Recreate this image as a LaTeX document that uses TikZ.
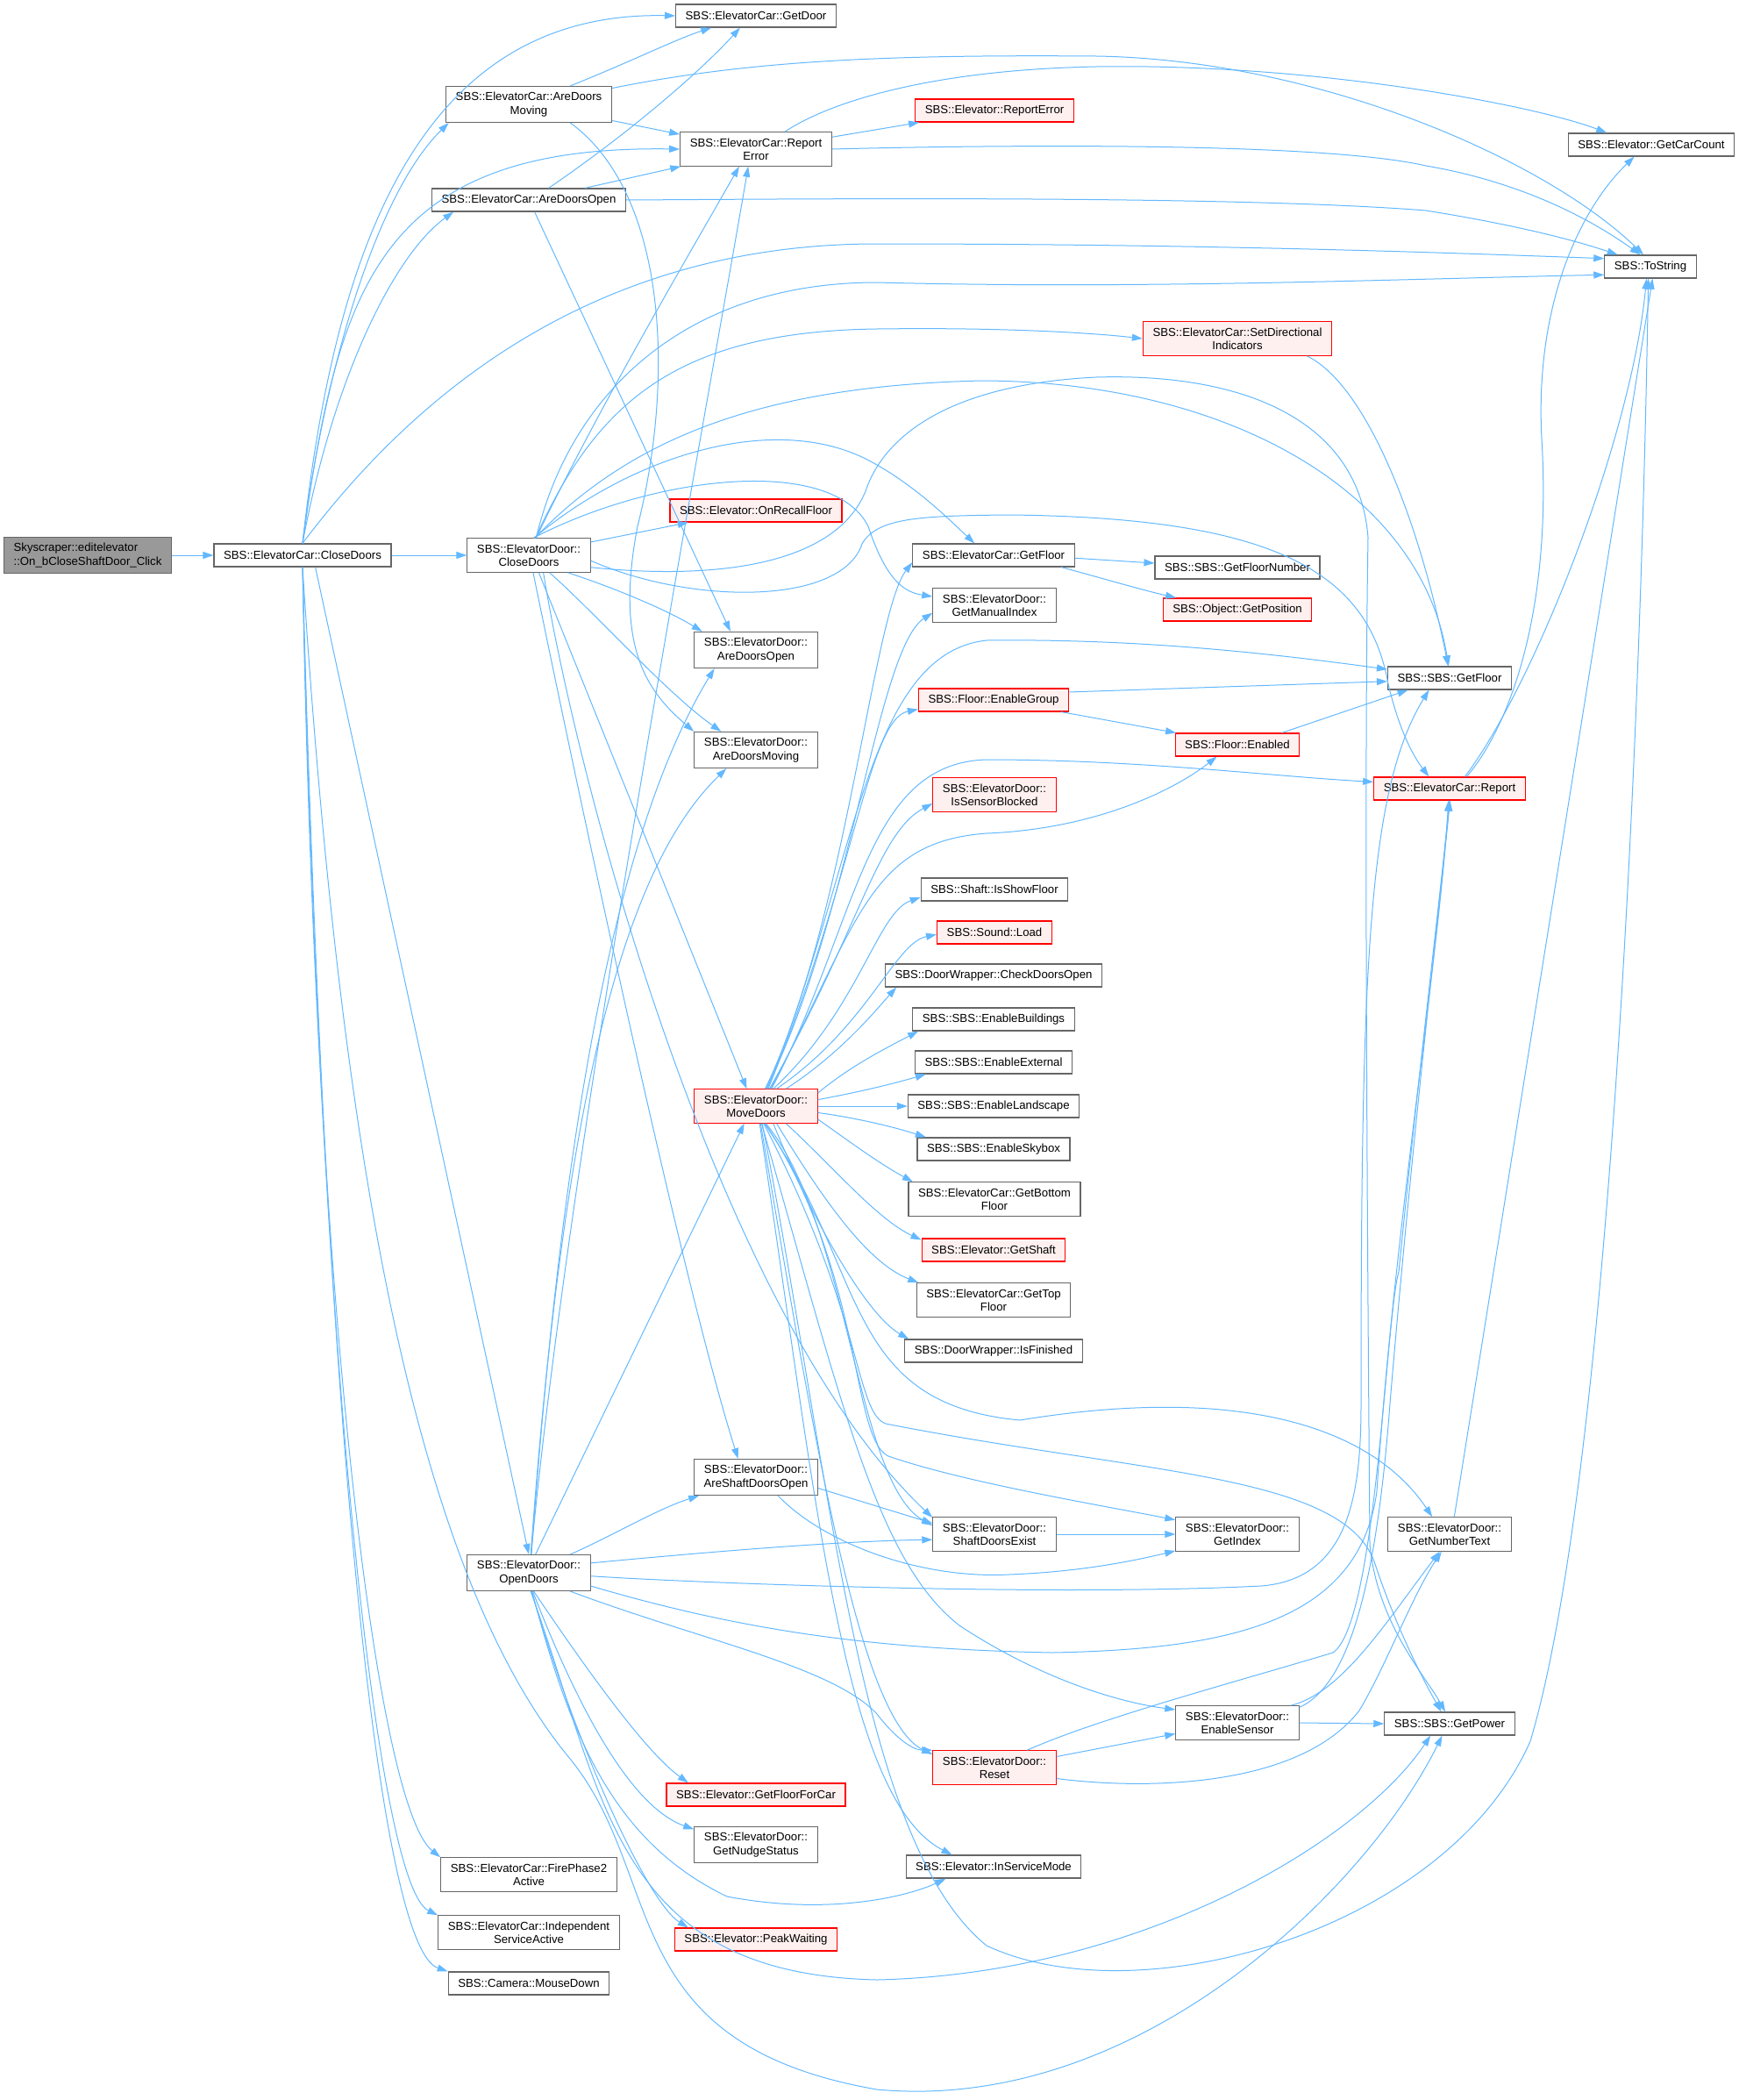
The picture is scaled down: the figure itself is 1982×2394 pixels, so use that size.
\documentclass[tikz,border=0pt]{standalone}
\usepackage{fontspec}
\setmainfont{Liberation Sans}
\usetikzlibrary{arrows.meta}
\definecolor{edgeblue}{HTML}{63B8FF}
\definecolor{boxgray}{HTML}{666666}
\definecolor{rootgray}{HTML}{999999}
\definecolor{redfill}{HTML}{FFF0F0}
\newcommand{\fnfont}{\fontsize{9.9}{11.5}\selectfont}

\begin{document}
\begin{tikzpicture}[x=0.75pt,y=-0.75pt,
  fn/.style={draw=boxgray, fill=white, line width=0.9pt, inner xsep=8.3pt, inner ysep=5pt, minimum height=19.5pt, align=center, font=\fnfont},
  fnred/.style={fn, draw=red},
  fnred/.append style={fill=redfill},
  fnroot/.style={fn, fill=rootgray, align=left},
  call/.style={draw=edgeblue, line width=0.75pt, -{Triangle[length=9pt,width=6pt]}, edgeblue}]
\useasboundingbox (0,0) rectangle (1982,2394);

\node[fnroot] (sk) at (100,633) {Skyscraper::editelevator\\::On\_bCloseShaftDoor\_Click};
\node[fn] (cc) at (345,633) {SBS::ElevatorCar::CloseDoors};
\node[fn] (admc) at (603,119) {SBS::ElevatorCar::AreDoors\\Moving};
\node[fn] (adoc) at (603,228) {SBS::ElevatorCar::AreDoorsOpen};
\node[fn] (ec) at (603,633) {SBS::ElevatorDoor::\\CloseDoors};
\node[fn] (od) at (603,1793) {SBS::ElevatorDoor::\\OpenDoors};
\node[fn] (fire) at (603,2137) {SBS::ElevatorCar::FirePhase2\\Active};
\node[fn] (indep) at (603,2203) {SBS::ElevatorCar::Independent\\ServiceActive};
\node[fn] (mouse) at (603,2261) {SBS::Camera::MouseDown};
\node[fn] (getdoor) at (862,18) {SBS::ElevatorCar::GetDoor};
\node[fn] (repcar) at (862,170) {SBS::ElevatorCar::Report\\Error};
\node[fnred] (recall) at (862,582) {SBS::Elevator::OnRecallFloor};
\node[fn] (adoe) at (862,741) {SBS::ElevatorDoor::\\AreDoorsOpen};
\node[fn] (adme) at (862,855) {SBS::ElevatorDoor::\\AreDoorsMoving};
\node[fnred] (move) at (862,1261) {SBS::ElevatorDoor::\\MoveDoors};
\node[fn] (asdo) at (862,1684) {SBS::ElevatorDoor::\\AreShaftDoorsOpen};
\node[fnred] (ffc) at (862,2046) {SBS::Elevator::GetFloorForCar};
\node[fn] (nudge) at (862,2103) {SBS::ElevatorDoor::\\GetNudgeStatus};
\node[fnred] (peak) at (862,2211) {SBS::Elevator::PeakWaiting};
\node[fnred] (eleverr) at (1134,126) {SBS::Elevator::ReportError};
\node[fn] (carfloor) at (1133,633) {SBS::ElevatorCar::GetFloor};
\node[fn] (manual) at (1134,690) {SBS::ElevatorDoor::\\GetManualIndex};
\node[fnred] (egroup) at (1133,798) {SBS::Floor::EnableGroup};
\node[fnred] (sensblk) at (1134,906) {SBS::ElevatorDoor::\\IsSensorBlocked};
\node[fn] (showfl) at (1134,1014) {SBS::Shaft::IsShowFloor};
\node[fnred] (sound) at (1134,1063) {SBS::Sound::Load};
\node[fn] (chkopen) at (1133,1112) {SBS::DoorWrapper::CheckDoorsOpen};
\node[fn] (ebuild) at (1133,1162) {SBS::SBS::EnableBuildings};
\node[fn] (eext) at (1133,1211) {SBS::SBS::EnableExternal};
\node[fn] (eland) at (1133,1261) {SBS::SBS::EnableLandscape};
\node[fn] (esky) at (1133,1310) {SBS::SBS::EnableSkybox};
\node[fn] (bottom) at (1134,1367) {SBS::ElevatorCar::GetBottom\\Floor};
\node[fnred] (shaft) at (1133,1425) {SBS::Elevator::GetShaft};
\node[fn] (top) at (1133,1482) {SBS::ElevatorCar::GetTop\\Floor};
\node[fn] (finished) at (1133,1540) {SBS::DoorWrapper::IsFinished};
\node[fn] (sdexist) at (1134,1749) {SBS::ElevatorDoor::\\ShaftDoorsExist};
\node[fnred] (reset) at (1134,2015) {SBS::ElevatorDoor::\\Reset};
\node[fn] (insvc) at (1133,2128) {SBS::Elevator::InServiceMode};
\node[fnred] (setdir) at (1411,386) {SBS::ElevatorCar::SetDirectional\\Indicators};
\node[fn] (fnum) at (1411,647) {SBS::SBS::GetFloorNumber};
\node[fnred] (getpos) at (1411,695) {SBS::Object::GetPosition};
\node[fnred] (enabled) at (1411,849) {SBS::Floor::Enabled};
\node[fn] (getindex) at (1411,1749) {SBS::ElevatorDoor::\\GetIndex};
\node[fn] (esensor) at (1411,1964) {SBS::ElevatorDoor::\\EnableSensor};
\node[fn] (sbsfloor) at (1653,773) {SBS::SBS::GetFloor};
\node[fnred] (report) at (1653,899) {SBS::ElevatorCar::Report};
\node[fn] (numtext) at (1653,1749) {SBS::ElevatorDoor::\\GetNumberText};
\node[fn] (power) at (1653,1965) {SBS::SBS::GetPower};
\node[fn] (carcount) at (1883,165) {SBS::Elevator::GetCarCount};
\node[fn] (tostr) at (1882,304) {SBS::ToString};

\draw[call] (sk) -- (cc);
\draw[call] (cc) -- (ec);
\draw[call] (cc.north) .. controls (380,300) and (470,12) .. (getdoor.west);
\draw[call] (cc.north) .. controls (370,420) and (430,220) .. (admc.193);
\draw[call] (cc.north) .. controls (385,330) and (430,165) .. (repcar.west);
\draw[call] (cc.north) .. controls (380,430) and (450,290) .. (adoc.189);
\draw[call] (cc.north) .. controls (450,480) and (650,278) .. (1000,278) .. controls (1400,278) and (1700,290) .. (tostr.170);
\draw[call] (cc.-43) -- (od.north);
\draw[call] (cc.south) .. controls (360,1500) and (430,2060) .. (fire.north west);
\draw[call] (cc.south) .. controls (365,1550) and (430,2150) .. (indep.north west);
\draw[call] (cc.south) .. controls (370,1600) and (430,2220) .. (mouse.north west);
\draw[call] (cc.south) .. controls (390,1350) and (480,1800) .. (650,2005) .. controls (760,2140) and (700,2330) .. (1000,2382) .. controls (1300,2410) and (1560,2150) .. (power.238);

\draw[call] (admc.24) .. controls (720,70) and (770,45) .. (getdoor.195);
\draw[call] (admc.-11) -- (repcar.169);
\draw[call] (admc.11) .. controls (850,70) and (1000,62) .. (1250,64) .. controls (1500,68) and (1760,180) .. (tostr.120);
\draw[call] (admc.-24) .. controls (760,220) and (770,430) .. (727,600) .. controls (700,740) and (740,790) .. (adme.north west);
\draw[call] (adoc.31) .. controls (720,150) and (800,80) .. (getdoor.217);
\draw[call] (adoc.12) -- (repcar.193);
\draw[call] (adoc.east) .. controls (900,227) and (1400,222) .. (1626,240) .. controls (1720,255) and (1790,272) .. (tostr.160);
\draw[call] (adoc.-64) -- (adoe.144);
\draw[call] (repcar.9) -- (eleverr.189);
\draw[call] (repcar.31) .. controls (940,120) and (1050,80) .. (1250,76) .. controls (1500,72) and (1750,120) .. (carcount.165);
\draw[call] (repcar.east) .. controls (1100,166) and (1500,160) .. (1626,189) .. controls (1720,205) and (1800,240) .. (tostr.130);

\draw[call] (ec.67) .. controls (680,470) and (780,300) .. (repcar.226);
\draw[call] (ec.67) .. controls (650,450) and (780,322) .. (1000,322) .. controls (1300,330) and (1600,318) .. (tostr.190);
\draw[call] (ec.69) .. controls (680,460) and (770,378) .. (1000,375) .. controls (1150,373) and (1250,380) .. (setdir.west);
\draw[call] (ec.71) .. controls (710,510) and (850,440) .. (1120,434) .. controls (1400,435) and (1620,560) .. (sbsfloor.95);
\draw[call] (ec.73) .. controls (720,520) and (880,470) .. (987,523) .. controls (1040,550) and (1080,590) .. (carfloor.148);
\draw[call] (ec.75) .. controls (750,540) and (950,520) .. (990,600) .. controls (1010,660) and (1030,675) .. (manual.172);
\draw[call] (ec.12) -- (recall.190);
\draw[call] (ec.-11) .. controls (800,660) and (950,650) .. (987,560) .. controls (1000,520) and (1050,440) .. (1250,430) .. controls (1420,425) and (1550,480) .. (1560,613) .. controls (1555,900) and (1560,1500) .. (1562,1760) .. controls (1570,1850) and (1625,1910) .. (power.110);
\draw[call] (ec.-5) .. controls (790,690) and (960,690) .. (983,620) .. controls (1000,590) and (1050,588) .. (1150,587) .. controls (1450,590) and (1560,650) .. (1583,780) .. controls (1595,830) and (1610,860) .. (report.150);
\draw[call] (ec.-24) .. controls (700,670) and (760,695) .. (adoe.161);
\draw[call] (ec.-40) .. controls (680,700) and (760,790) .. (adme.152);
\draw[call] (ec.-60) -- (move.118);
\draw[call] (ec.-76) .. controls (700,1100) and (790,1500) .. (asdo.134);
\draw[call] (ec.-50) .. controls (660,900) and (820,1500) .. (sdexist.165);

\draw[call] (od.83) .. controls (650,1300) and (800,500) .. (repcar.246);
\draw[call] (od.82) .. controls (640,1300) and (700,950) .. (adoe.204);
\draw[call] (od.84) .. controls (640,1300) and (700,1000) .. (adme.212);
\draw[call] (od.70) -- (move.236);
\draw[call] (od.24) .. controls (700,1750) and (750,1720) .. (asdo.198);
\draw[call] (od.9) .. controls (800,1770) and (950,1757) .. (sdexist.185);
\draw[call] (od.-3) .. controls (800,1805) and (1200,1820) .. (1438,1808) .. controls (1540,1800) and (1552,1700) .. (1552,1600) .. controls (1552,1100) and (1560,900) .. (sbsfloor.210);
\draw[call] (od.-12) .. controls (850,1860) and (1000,1880) .. (1200,1884) .. controls (1400,1880) and (1550,1850) .. (1570,1700) .. controls (1590,1400) and (1640,1100) .. (report.-95);
\draw[call] (od.-24) .. controls (800,1870) and (950,1900) .. (1000,1954) .. controls (1020,1980) and (1040,1995) .. (reset.north west);
\draw[call] (od.-75) .. controls (680,1920) and (740,2000) .. (ffc.170);
\draw[call] (od.-78) .. controls (660,1950) and (720,2060) .. (nudge.166);
\draw[call] (od.-82) .. controls (660,2000) and (740,2170) .. (peak.170);
\draw[call] (od.-80) .. controls (650,1980) and (700,2100) .. (829,2162) .. controls (950,2185) and (1040,2160) .. (insvc.194);
\draw[call] (od.-84) .. controls (690,2050) and (700,2250) .. (1000,2257) .. controls (1300,2250) and (1550,2100) .. (power.212);

\draw[call] (move.62) .. controls (965,1050) and (995,700) .. (carfloor.185);
\draw[call] (move.60) .. controls (970,1050) and (1000,740) .. (manual.187);
\draw[call] (move.57) .. controls (975,1000) and (985,745) .. (1125,730) .. controls (1300,728) and (1450,745) .. (sbsfloor.172);
\draw[call] (move.55) .. controls (975,1000) and (990,820) .. (egroup.187);
\draw[call] (move.52) .. controls (980,1060) and (1000,950) .. (sensblk.188);
\draw[call] (move.50) .. controls (980,1050) and (990,960) .. (1125,950) .. controls (1250,945) and (1340,900) .. (enabled.210);
\draw[call] (move.48) .. controls (980,1050) and (985,870) .. (1125,866) .. controls (1300,866) and (1450,885) .. (report.175);
\draw[call] (move.45) .. controls (980,1150) and (1000,1040) .. (showfl.186);
\draw[call] (move.40) .. controls (990,1170) and (1020,1075) .. (sound.182);
\draw[call] (move.30) .. controls (960,1200) and (1000,1150) .. (chkopen.187);
\draw[call] (move.12) .. controls (970,1215) and (1010,1195) .. (ebuild.189);
\draw[call] (move.6) .. controls (980,1245) and (1020,1235) .. (eext.190);
\draw[call] (move.east) -- (eland.west);
\draw[call] (move.-6) .. controls (980,1275) and (1020,1285) .. (esky.170);
\draw[call] (move.-12) .. controls (960,1295) and (1000,1325) .. (bottom.168);
\draw[call] (move.-30) .. controls (950,1330) and (1000,1390) .. (shaft.172);
\draw[call] (move.-40) .. controls (940,1370) and (990,1440) .. (top.167);
\draw[call] (move.-45) .. controls (930,1400) and (990,1500) .. (finished.172);
\draw[call] (move.-60) .. controls (970,1400) and (975,1690) .. (sdexist.172);
\draw[call] (move.-62) .. controls (985,1450) and (970,1640) .. (1013,1660) .. controls (1100,1690) and (1250,1715) .. (getindex.167);
\draw[call] (move.-64) .. controls (990,1450) and (960,1600) .. (1163,1619) .. controls (1400,1580) and (1560,1620) .. (numtext.135);
\draw[call] (move.-66) .. controls (985,1500) and (975,1610) .. (1010,1623) .. controls (1300,1680) and (1530,1680) .. (1567,1780) .. controls (1590,1850) and (1620,1910) .. (power.125);
\draw[call] (move.-72) .. controls (960,1600) and (1000,1780) .. (1094,1853) .. controls (1180,1910) and (1270,1940) .. (esensor.168);
\draw[call] (move.-75) .. controls (930,1650) and (980,1960) .. (reset.168);
\draw[call] (move.-78) .. controls (930,1700) and (960,2050) .. (insvc.164);
\draw[call] (move.-70) .. controls (950,1700) and (980,2100) .. (1125,2218) .. controls (1300,2300) and (1650,2200) .. (1745,1985) .. controls (1830,1700) and (1870,900) .. (tostr.-100);

\draw[call] (asdo.-10) -- (sdexist.170);
\draw[call] (asdo.-40) .. controls (940,1760) and (1050,1800) .. (1150,1795) .. controls (1230,1792) and (1290,1780) .. (getindex.195);
\draw[call] (sdexist) -- (getindex);
\draw[call] (reset.10) -- (esensor.190);
\draw[call] (reset.28) .. controls (1250,1960) and (1400,1920) .. (1520,1884) .. controls (1570,1850) and (1580,1500) .. (1595,1450) .. controls (1620,1200) and (1645,1000) .. (report.-92);
\draw[call] (reset.-10) .. controls (1300,2040) and (1480,2040) .. (1550,1950) .. controls (1580,1900) and (1610,1820) .. (numtext.-115);
\draw[call] (esensor.east) -- (power.west);
\draw[call] (esensor.18) .. controls (1530,1930) and (1580,1850) .. (numtext.-120);
\draw[call] (esensor.14) .. controls (1540,1920) and (1570,1800) .. (1585,1600) .. controls (1610,1300) and (1645,1000) .. (report.-88);
\draw[call] (egroup.6) -- (sbsfloor.183);
\draw[call] (egroup.-10) -- (enabled.169);
\draw[call] (enabled.15) -- (sbsfloor.196);
\draw[call] (setdir.-14) .. controls (1560,440) and (1620,600) .. (sbsfloor.97);
\draw[call] (carfloor.-2) -- (fnum.177);
\draw[call] (carfloor.-10) .. controls (1260,660) and (1300,672) .. (getpos.169);
\draw[call] (report.35) .. controls (1720,830) and (1770,700) .. (1758,500) .. controls (1750,350) and (1800,240) .. (carcount.215);
\draw[call] (report.38) .. controls (1750,780) and (1860,500) .. (tostr.-108);
\draw[call] (numtext.75) -- (tostr.-80);
\end{tikzpicture}
\end{document}
